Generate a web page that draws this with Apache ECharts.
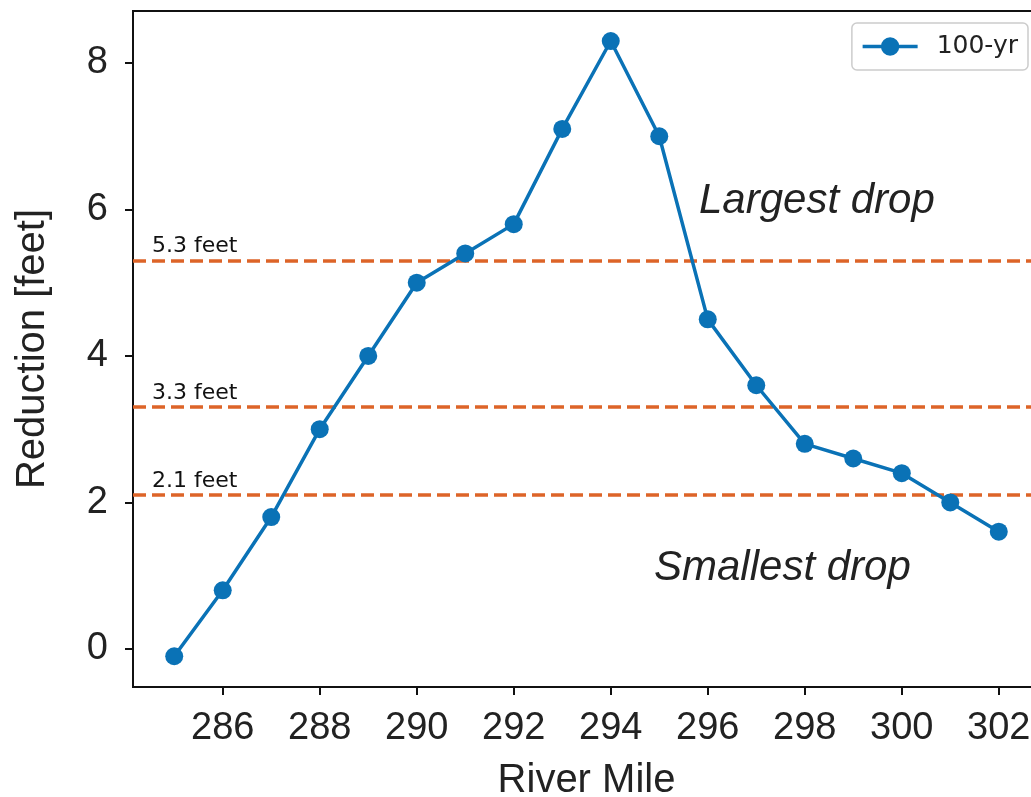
<!DOCTYPE html>
<html>
<head>
<meta charset="utf-8">
<script src="https://cdn.jsdelivr.net/npm/echarts@6/dist/echarts.min.js"></script>
<style>
html,body{margin:0;padding:0;background:#fff;}
#chart{width:1031px;height:797px;}
</style>
</head>
<body>
<div id="chart"></div>
<script>
const miles = [285, 286, 287, 288, 289, 290, 291, 292, 293, 294, 295, 296, 297, 298, 299, 300, 301, 302];
const reduction = [-0.1, 0.8, 1.8, 3.0, 4.0, 5.0, 5.4, 5.8, 7.1, 8.3, 7.0, 4.5, 3.6, 2.8, 2.6, 2.4, 2.0, 1.6];
const thresholds = [5.3, 3.3, 2.1];
const thresholdLabels = ['5.3 feet', '3.3 feet', '2.1 feet'];
const xTicks = [286, 288, 290, 292, 294, 296, 298, 300, 302];
const yTicks = [0, 2, 4, 6, 8];
const seriesName = '100-yr';

const BLUE = '#0A72B6';
const ORANGE = '#DD6428';
const TXT = '#222';
const SANS = 'Liberation Sans, Arial, Helvetica, sans-serif';
const DJV = 'DejaVu Sans, sans-serif';

const chart = echarts.init(document.getElementById('chart'), null, {renderer: 'canvas'});

const option = {
  animation: false,
  backgroundColor: '#fff',
  grid: {
    left: 133, top: 11, width: 907, height: 676,
    outerBoundsMode: 'none', containLabel: false,
    show: true, borderColor: '#111', borderWidth: 2, backgroundColor: 'transparent'
  },
  legend: {
    right: 3, top: 23,
    padding: [11, 10, 11, 9],
    borderColor: '#cccccc', borderWidth: 1.5, borderRadius: 5,
    backgroundColor: '#fff',
    itemWidth: 55, itemHeight: 23,
    lineStyle: {width: 3.5},
    textStyle: {fontFamily: DJV, fontSize: 25, color: TXT, padding: [0, 0, 0, 14]},
    data: [seriesName]
  },
  xAxis: {
    type: 'value',
    min: 284.15, max: 302.85,
    name: 'River Mile', nameLocation: 'middle', nameGap: 74,
    nameTextStyle: {fontFamily: SANS, fontSize: 40, color: TXT},
    axisLine: {show: true, onZero: false, lineStyle: {color: '#111', width: 2}},
    axisTick: {show: true, length: 8, lineStyle: {color: '#111', width: 2}, customValues: xTicks},
    axisLabel: {fontFamily: SANS, fontSize: 38, color: TXT, margin: 23, customValues: xTicks, formatter: v => String(v)},
    splitLine: {show: false}
  },
  yAxis: {
    type: 'value',
    min: -0.52, max: 8.71,
    name: 'Reduction [feet]', nameLocation: 'middle', nameGap: 80,
    nameTextStyle: {fontFamily: SANS, fontSize: 40, color: TXT},
    axisLine: {show: true, onZero: false, lineStyle: {color: '#111', width: 2}},
    axisTick: {show: true, length: 8, lineStyle: {color: '#111', width: 2}, customValues: yTicks},
    axisLabel: {fontFamily: SANS, fontSize: 38, color: TXT, margin: 25, customValues: yTicks, formatter: v => String(v)},
    splitLine: {show: false}
  },
  series: [{
    name: seriesName,
    type: 'line',
    data: miles.map((m, i) => [m, reduction[i]]),
    symbol: 'circle', symbolSize: 18,
    itemStyle: {color: BLUE},
    lineStyle: {color: BLUE, width: 3.5},
    z: 3,
    markLine: {
      silent: true,
      symbol: ['none', 'none'],
      lineStyle: {color: ORANGE, width: 3.5, type: [13, 6]},
      label: {
        show: true, position: 'insideStartTop',
        fontFamily: DJV, fontSize: 22, color: '#111',
        distance: [19, 3],
        formatter: p => p.name
      },
      z: 2,
      data: thresholds.map((t, i) => ({yAxis: t, name: thresholdLabels[i]}))
    }
  }],
  graphic: [
    {type: 'text', left: 699, top: 180, style: {text: 'Largest drop', fontFamily: SANS, fontStyle: 'italic', fontSize: 42, fill: TXT}},
    {type: 'text', left: 654, top: 547, style: {text: 'Smallest drop', fontFamily: SANS, fontStyle: 'italic', fontSize: 42, fill: TXT}}
  ]
};
chart.setOption(option);
</script>
</body>
</html>
